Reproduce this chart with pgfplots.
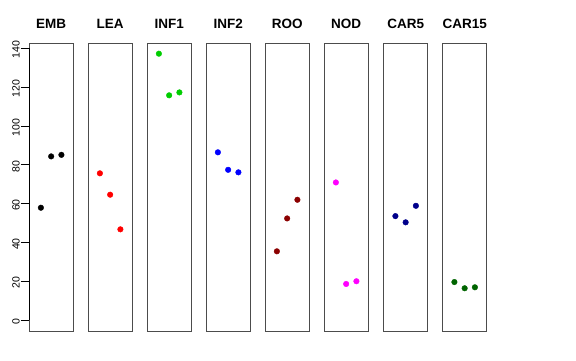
\documentclass[border=0pt]{standalone}
\usepackage{fontspec}
\setmainfont{Liberation Sans}
\usepackage{pgfplots}
\pgfplotsset{compat=1.18}
\definecolor{rgreen}{RGB}{0,205,0}
\definecolor{rdarkred}{RGB}{139,0,0}
\definecolor{rmagenta}{RGB}{255,0,255}
\definecolor{rdarkblue}{RGB}{0,0,139}
\definecolor{rdarkgreen}{RGB}{0,100,0}
\definecolor{rblue}{RGB}{0,0,255}
\definecolor{rred}{RGB}{255,0,0}
\pgfplotsset{
  panel/.style={
    scale only axis, width=44.3pt, height=288pt,
    xmin=-0.16, xmax=4.16, ymin=-5.48, ymax=142.6,
    xtick=\empty, ytick=\empty,
    axis line style={draw=black!70, line width=0.8pt},
    anchor=south west,
    title style={at={(axis description cs:0.5,1)}, anchor=base, yshift=9pt, font=\fontsize{13.5}{15}\selectfont\bfseries},
    clip=false,
  },
  dots/.style={only marks, mark=*, mark size=2.8pt, mark options={draw=#1, fill=#1}},
}
\begin{document}
\begin{tikzpicture}
\useasboundingbox (0pt,0pt) rectangle (576pt,360pt);
\begin{axis}[panel, at={(29pt,29pt)}, title={EMB},
  ytick={0,20,40,60,80,100,120,140},
  yticklabels={0,20,40,60,80,100,120,140},
  ytick pos=left, tick align=outside, major tick length=8pt,
  ytick style={black, line width=0.6pt},
  tick label style={font=\fontsize{10.5}{12}\selectfont},
  yticklabel style={rotate=90, anchor=south, inner sep=1pt, xshift=-1.5pt}]
\draw[black, line width=0.6pt] (axis cs:-0.16,0) -- (axis cs:-0.16,140);
\addplot[dots=black] coordinates {(1,57.9) (2,84.3) (3,85.1)};
\end{axis}
\begin{axis}[panel, at={(88pt,29pt)}, title={LEA}]
\addplot[dots=rred] coordinates {(1,75.6) (2,64.6) (3,46.8)};
\end{axis}
\begin{axis}[panel, at={(147pt,29pt)}, title={INF1}]
\addplot[dots=rgreen] coordinates {(1,137.1) (2,115.7) (3,117.2)};
\end{axis}
\begin{axis}[panel, at={(206pt,29pt)}, title={INF2}]
\addplot[dots=rblue] coordinates {(1,86.4) (2,77.4) (3,76.1)};
\end{axis}
\begin{axis}[panel, at={(265pt,29pt)}, title={ROO}]
\addplot[dots=rdarkred] coordinates {(1,35.5) (2,52.4) (3,62.0)};
\end{axis}
\begin{axis}[panel, at={(324pt,29pt)}, title={NOD}]
\addplot[dots=rmagenta] coordinates {(1,70.9) (2,18.7) (3,20.1)};
\end{axis}
\begin{axis}[panel, at={(383.5pt,29pt)}, title={CAR5}]
\addplot[dots=rdarkblue] coordinates {(1,53.6) (2,50.4) (3,58.9)};
\end{axis}
\begin{axis}[panel, at={(442.5pt,29pt)}, title={CAR15}]
\addplot[dots=rdarkgreen] coordinates {(1,19.7) (2,16.5) (3,17.0)};
\end{axis}
\end{tikzpicture}
\end{document}
